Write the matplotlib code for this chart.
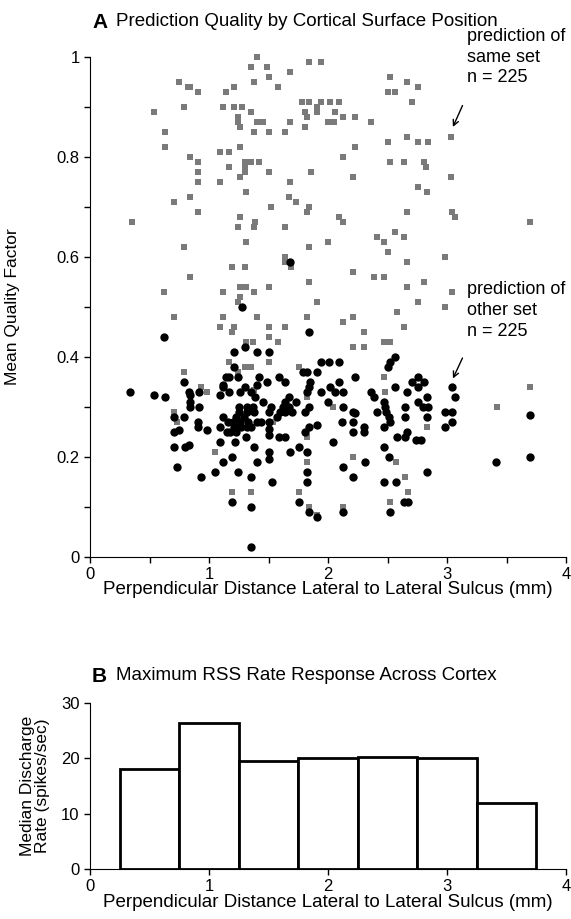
import matplotlib
matplotlib.use("Agg")
import matplotlib.pyplot as plt
from matplotlib.ticker import MultipleLocator

plt.rcParams['font.family'] = ['Liberation Sans', 'DejaVu Sans']

# prediction of same set (gray squares)
same_x = [1.40, 1.84, 1.94, 1.35, 1.49, 1.68, 1.50, 0.75, 0.82, 0.84, 0.91, 1.38, 1.14, 1.21, 1.58,
          1.78, 1.84, 1.94, 0.54, 0.79, 1.12, 1.21, 1.28, 1.35, 1.24, 1.24, 1.40, 1.45, 1.81, 1.82,
          1.91, 1.91, 0.63, 1.26, 1.38, 1.50, 1.64, 1.68, 1.81, 0.63, 1.09, 1.17, 1.26, 0.84, 0.91,
          1.30, 1.35, 1.42, 1.17, 1.30, 1.30, 0.91, 0.91, 1.09, 1.26, 1.50, 1.68, 1.86, 1.31, 0.84,
          0.71, 1.52, 1.67, 1.73, 1.84, 0.91, 1.82, 0.35, 1.26, 1.24, 1.38, 1.39, 1.64, 1.31, 0.79,
          1.84, 1.64, 1.64, 1.69, 1.19, 1.30, 0.84,
          2.52, 2.66, 2.76, 2.50, 2.56, 2.71, 2.02, 2.09, 2.06, 2.00, 2.05, 2.13, 2.23, 2.36, 3.03,
          2.66, 2.76, 2.84, 2.50, 2.23, 2.13, 2.52, 2.64, 2.81, 2.82, 2.21, 3.03, 2.76, 2.83, 2.09,
          2.13, 2.66, 3.04, 3.07, 3.70, 2.00, 2.41, 2.47, 2.56, 2.64, 2.50, 2.66, 2.98, 2.21, 2.39,
          2.47, 2.81,
          0.62, 1.12, 1.26, 1.31, 1.38, 1.50, 1.84, 1.91, 1.26, 1.24, 0.71, 1.12, 1.40, 1.09, 1.19,
          1.21, 1.50, 1.64, 1.82, 1.50, 1.58, 1.31, 1.37, 1.50, 1.17, 1.24, 1.30, 1.35, 1.76, 0.79,
          0.93, 0.98, 1.38, 1.82, 0.71, 0.73, 1.54, 1.82, 1.05, 1.82, 1.19, 1.35, 1.76, 1.84, 1.91,
          2.66, 3.04, 2.76, 2.98, 2.58, 2.13, 2.21, 2.30, 2.64, 2.21, 2.30, 2.47, 2.52, 2.47, 2.48,
          3.70, 2.04, 3.42, 2.13, 2.83, 2.21, 2.57, 2.65, 2.67, 2.13, 2.52]
same_y = [1.00, 0.99, 0.99, 0.98, 0.98, 0.97, 0.96, 0.95, 0.94, 0.94, 0.93, 0.95, 0.93, 0.94, 0.94,
          0.91, 0.91, 0.91, 0.89, 0.90, 0.90, 0.90, 0.90, 0.89, 0.88, 0.87, 0.87, 0.87, 0.89, 0.88,
          0.90, 0.89, 0.85, 0.86, 0.85, 0.85, 0.85, 0.87, 0.86, 0.82, 0.81, 0.81, 0.82, 0.80, 0.79,
          0.79, 0.79, 0.79, 0.78, 0.78, 0.77, 0.77, 0.75, 0.75, 0.76, 0.77, 0.75, 0.77, 0.73, 0.72,
          0.71, 0.70, 0.72, 0.71, 0.70, 0.69, 0.69, 0.67, 0.68, 0.66, 0.66, 0.67, 0.66, 0.63, 0.62,
          0.62, 0.60, 0.59, 0.58, 0.58, 0.58, 0.56,
          0.96, 0.95, 0.94, 0.93, 0.93, 0.91, 0.91, 0.91, 0.89, 0.87, 0.87, 0.88, 0.88, 0.87, 0.84,
          0.84, 0.83, 0.83, 0.83, 0.82, 0.80, 0.79, 0.79, 0.79, 0.78, 0.76, 0.76, 0.74, 0.73, 0.68,
          0.67, 0.69, 0.69, 0.68, 0.67, 0.63, 0.64, 0.63, 0.65, 0.64, 0.61, 0.59, 0.60, 0.57, 0.56,
          0.56, 0.55,
          0.53, 0.53, 0.54, 0.54, 0.53, 0.54, 0.55, 0.51, 0.52, 0.51, 0.48, 0.48, 0.48, 0.46, 0.45,
          0.46, 0.46, 0.46, 0.48, 0.44, 0.43, 0.43, 0.43, 0.39, 0.39, 0.37, 0.38, 0.38, 0.38, 0.37,
          0.34, 0.33, 0.335, 0.32, 0.29, 0.27, 0.27, 0.24, 0.21, 0.19, 0.13, 0.13, 0.13, 0.10, 0.085,
          0.54, 0.53, 0.51, 0.50, 0.49, 0.47, 0.48, 0.45, 0.46, 0.42, 0.42, 0.43, 0.43, 0.36, 0.33,
          0.34, 0.30, 0.30, 0.27, 0.26, 0.20, 0.19, 0.16, 0.13, 0.10, 0.11]

# prediction of other set (black circles)
other_x = [1.68, 1.28, 0.62, 1.84, 1.30, 1.40, 1.50, 1.21, 1.21, 1.94, 1.14, 1.17, 1.24, 1.42, 1.59,
           0.79, 1.49, 1.79, 1.82, 1.91, 1.12, 1.12, 1.30, 1.40, 1.64, 1.85, 0.34, 0.54, 0.63, 0.83,
           0.84, 0.92, 1.09, 1.17, 1.26, 1.35, 1.39, 1.67, 1.82, 1.84, 1.94, 0.84, 0.84, 0.92, 1.25,
           1.32, 1.37, 1.45, 1.52, 1.64, 1.67, 1.73, 1.84, 0.71, 0.79, 1.12, 1.25, 1.32, 1.38, 1.50,
           1.64, 1.70, 1.81, 0.91, 0.91, 1.09, 1.15, 1.21, 1.26, 1.32, 1.40, 1.50, 1.50, 1.50, 0.71,
           0.75, 0.98, 1.18, 1.23, 1.31, 1.35, 1.91, 1.84, 1.81, 1.59, 1.64, 0.71, 0.80, 0.83, 1.09,
           1.22, 1.38, 1.76, 1.82, 1.68, 1.50, 1.50, 1.12, 1.19, 0.73, 1.05, 1.24, 1.40, 0.93, 1.35,
           1.82, 1.82, 1.53, 1.19, 1.35, 1.76, 1.84, 1.91, 1.35,
           1.20, 1.23, 1.27, 1.29, 1.33, 1.16, 1.44, 1.60, 1.62, 1.57,
           2.01, 2.09, 2.52, 2.50, 2.56, 2.23, 2.02, 2.09, 2.06, 2.13, 2.36, 2.39, 2.56, 2.66, 2.71,
           2.76, 2.76, 2.81, 2.83, 3.04, 3.07, 2.00, 2.13, 2.21, 2.23, 2.41, 2.47, 2.48, 2.49, 2.51,
           2.65, 2.65, 2.76, 2.80, 2.83, 2.84, 2.98, 3.04, 3.70, 2.12, 2.21, 2.30, 2.30, 2.47, 2.52,
           2.21, 2.58, 2.66, 2.65, 2.74, 2.78, 2.98, 3.04, 2.04, 2.47, 2.51, 2.31, 3.41, 3.70, 2.13,
           2.21, 2.83, 2.47, 2.57, 2.64, 2.67, 2.13, 2.52]
other_y = [0.59, 0.50, 0.44, 0.45, 0.42, 0.41, 0.41, 0.41, 0.38, 0.39, 0.36, 0.36, 0.36, 0.36, 0.36,
           0.35, 0.35, 0.37, 0.37, 0.37, 0.345, 0.34, 0.34, 0.345, 0.35, 0.35, 0.33, 0.325, 0.32, 0.33,
           0.325, 0.33, 0.325, 0.33, 0.33, 0.33, 0.32, 0.32, 0.33, 0.34, 0.33, 0.31, 0.30, 0.30, 0.30,
           0.30, 0.30, 0.31, 0.30, 0.31, 0.30, 0.31, 0.30, 0.28, 0.28, 0.28, 0.29, 0.29, 0.29, 0.29,
           0.29, 0.29, 0.29, 0.27, 0.26, 0.26, 0.25, 0.26, 0.27, 0.26, 0.27, 0.27, 0.256, 0.244, 0.25,
           0.255, 0.255, 0.25, 0.25, 0.24, 0.26, 0.265, 0.26, 0.25, 0.24, 0.24, 0.22, 0.22, 0.224, 0.23,
           0.23, 0.22, 0.22, 0.21, 0.21, 0.21, 0.197, 0.19, 0.20, 0.18, 0.17, 0.17, 0.19, 0.16, 0.16,
           0.17, 0.15, 0.15, 0.11, 0.10, 0.11, 0.09, 0.08, 0.02,
           0.27, 0.28, 0.26, 0.28, 0.27, 0.27, 0.27, 0.29, 0.30, 0.28,
           0.39, 0.39, 0.39, 0.38, 0.40, 0.36, 0.34, 0.35, 0.33, 0.33, 0.33, 0.32, 0.34, 0.33, 0.35,
           0.36, 0.34, 0.35, 0.32, 0.34, 0.32, 0.31, 0.30, 0.29, 0.289, 0.29, 0.31, 0.30, 0.29, 0.28,
           0.30, 0.28, 0.31, 0.30, 0.28, 0.30, 0.29, 0.29, 0.285, 0.27, 0.27, 0.26, 0.25, 0.26, 0.27,
           0.25, 0.24, 0.25, 0.24, 0.235, 0.235, 0.26, 0.27, 0.23, 0.22, 0.20, 0.19, 0.19, 0.20, 0.18,
           0.16, 0.17, 0.15, 0.15, 0.11, 0.11, 0.09, 0.09]

# panel B: median discharge rate per 0.5 mm bin
bin_centers = [0.5, 1.0, 1.5, 2.0, 2.5, 3.0, 3.5]
median_rate = [18.0, 26.3, 19.6, 20.0, 20.2, 20.0, 11.9]

W, H = 571, 919
fig = plt.figure(figsize=(W / 100, H / 100), dpi=100)

def frac_box(left, top, right, bottom):
    return [left / W, 1 - bottom / H, (right - left) / W, (bottom - top) / H]

# ---- panel A ----
axA = fig.add_axes(frac_box(90, 57, 566, 557))
axA.scatter(same_x, same_y, marker='s', s=24, color='#7a7a7a', linewidths=0, clip_on=False, zorder=2)
axA.scatter(other_x, other_y, marker='o', s=36, color='black', linewidths=0, clip_on=False, zorder=3)
axA.set_xlim(0, 4)
axA.set_ylim(0, 1)
axA.xaxis.set_major_locator(MultipleLocator(1))
axA.xaxis.set_minor_locator(MultipleLocator(0.5))
axA.yaxis.set_major_locator(MultipleLocator(0.2))
axA.yaxis.set_minor_locator(MultipleLocator(0.1))
axA.yaxis.set_major_formatter(plt.FuncFormatter(lambda v, p: '%g' % round(v, 1)))
for s in ['top', 'right']:
    axA.spines[s].set_visible(False)
axA.tick_params(which='both', direction='out', length=4, width=1, labelsize=12)
axA.set_xlabel('Perpendicular Distance Lateral to Lateral Sulcus (mm)', fontsize=13.5, labelpad=-1)
axA.set_ylabel('Mean Quality Factor', fontsize=12.5)
axA.yaxis.set_label_coords(-0.147, 0.5)

axA.text(3.17, 1.0, 'prediction of\nsame set\nn = 225', fontsize=13, va='center', ha='left',
         linespacing=1.3)
axA.annotate('', xy=(3.04, 0.855), xytext=(3.14, 0.908),
             arrowprops=dict(arrowstyle='->', color='black', lw=1))
axA.text(3.17, 0.493, 'prediction of\nother set\nn = 225', fontsize=13, va='center', ha='left',
         linespacing=1.3)
axA.annotate('', xy=(3.04, 0.352), xytext=(3.14, 0.403),
             arrowprops=dict(arrowstyle='->', color='black', lw=1))

fig.text(92 / W, 1 - 22 / H, 'A', fontsize=15, fontweight='bold', va='center')
fig.text(116 / W, 1 - 22 / H, 'Prediction Quality by Cortical Surface Position', fontsize=13.5, va='center')

# ---- panel B ----
axB = fig.add_axes(frac_box(90, 703, 566, 869))
axB.bar(bin_centers, median_rate, width=0.5, color='white', edgecolor='black', linewidth=2)
axB.set_xlim(0, 4)
axB.set_ylim(0, 30)
axB.set_xticks([0, 1, 2, 3, 4])
axB.set_yticks([0, 10, 20, 30])
for s in ['top', 'right']:
    axB.spines[s].set_visible(False)
axB.tick_params(direction='out', length=4, width=1, labelsize=12)
axB.set_xlabel('Perpendicular Distance Lateral to Lateral Sulcus (mm)', fontsize=13.5, labelpad=0)
axB.set_ylabel('Median Discharge\nRate (spikes/sec)', fontsize=12.5, linespacing=1.0)
axB.yaxis.set_label_coords(-0.085, 0.5)

fig.text(92 / W, 1 - 676 / H, 'B', fontsize=15, fontweight='bold', va='center')
fig.text(116 / W, 1 - 676 / H, 'Maximum RSS Rate Response Across Cortex', fontsize=13.5, va='center')

fig.savefig('out.png', dpi=100)
